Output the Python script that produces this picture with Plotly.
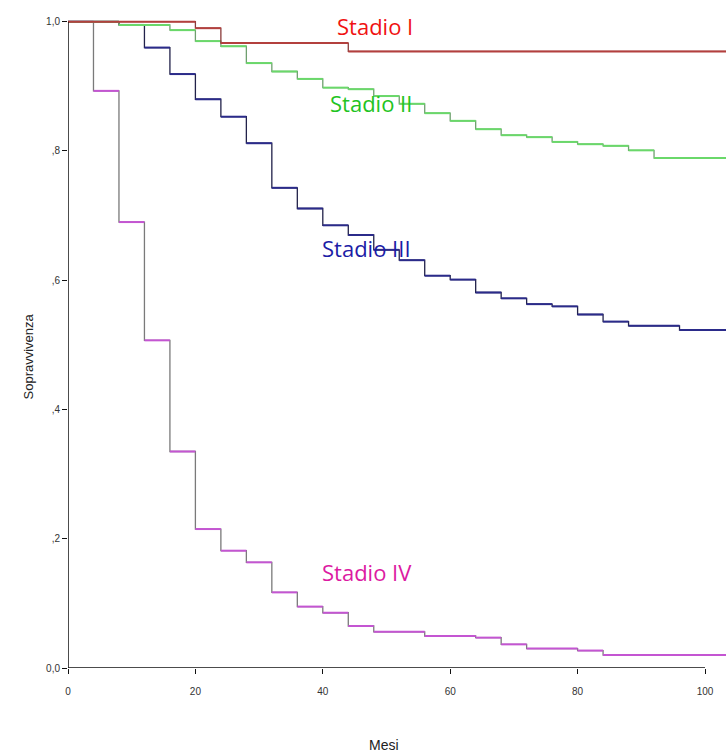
import plotly.graph_objects as go

# ---- data ----
stage_names = ["Stadio I", "Stadio II", "Stadio III", "Stadio IV"]

t_I = [0, 20, 24, 44]
s_I = [1.0, 0.990, 0.967, 0.954]

t_II = [0, 8, 16, 20, 24, 28, 32, 36, 40, 44, 48, 52, 56, 60, 64, 68, 72, 76, 80, 84, 88, 92]
s_II = [1.0, 0.995, 0.987, 0.970, 0.962, 0.936, 0.923, 0.9115, 0.898, 0.8956, 0.885, 0.873,
        0.8585, 0.8466, 0.8337, 0.8244, 0.8214, 0.814, 0.8105, 0.808, 0.801, 0.789]

t_III = [0, 8, 12, 16, 20, 24, 28, 32, 36, 40, 44, 48, 52, 56, 60, 64, 68, 72, 76, 80, 84, 88, 96]
s_III = [1.0, 0.995, 0.960, 0.919, 0.880, 0.853, 0.812, 0.743, 0.711, 0.685, 0.670, 0.647,
         0.631, 0.607, 0.601, 0.581, 0.572, 0.563, 0.5595, 0.547, 0.536, 0.5295, 0.523]

t_IV = [0, 4, 8, 12, 16, 20, 24, 28, 32, 36, 40, 44, 48, 56, 64, 68, 72, 80, 84]
s_IV = [1.0, 0.893, 0.690, 0.507, 0.335, 0.215, 0.1815, 0.1635, 0.117, 0.095, 0.0855,
        0.065, 0.056, 0.0495, 0.047, 0.0366, 0.030, 0.027, 0.020]

x_end = 104  # curves continue past the visible edge

x_tickvals = [0, 20, 40, 60, 80, 100]
x_ticktext = ["0", "20", "40", "60", "80", "100"]
y_tickvals = [0, 0.2, 0.4, 0.6, 0.8, 1.0]
y_ticktext = ["0,0", ",2", ",4", ",6", ",8", "1,0"]

# styles
line_colors = {"Stadio I": "#b3403e", "Stadio II": "#6ad86a", "Stadio III": "#2b2b8a", "Stadio IV": "#c455d2"}
vert_colors = {"Stadio I": "#8a3b3a", "Stadio II": "#6f9f6f", "Stadio III": "#22224a", "Stadio IV": "#7a7a7a"}
text_colors = {"Stadio I": "#f01212", "Stadio II": "#22c322", "Stadio III": "#1c1ca6", "Stadio IV": "#dc1aa2"}
label_pos = {"Stadio I": (48.2, 0.993), "Stadio II": (47.6, 0.874),
             "Stadio III": (46.9, 0.650), "Stadio IV": (46.9, 0.1485)}

series = {"Stadio I": (t_I, s_I), "Stadio II": (t_II, s_II),
          "Stadio III": (t_III, s_III), "Stadio IV": (t_IV, s_IV)}

fig = go.Figure()
for name in ["Stadio IV", "Stadio III", "Stadio II", "Stadio I"]:
    t, s = series[name]
    # full step curve (vertical connectors visible in gray tone)
    fig.add_trace(go.Scatter(x=t + [x_end], y=s + [s[-1]], mode="lines",
                             line=dict(color=vert_colors[name], width=1.3, shape="hv"),
                             showlegend=False, hoverinfo="skip"))
    # horizontal segments in the series colour
    hx, hy = [], []
    for i in range(len(t)):
        x1 = t[i + 1] if i + 1 < len(t) else x_end
        hx += [t[i], x1, None]
        hy += [s[i], s[i], None]
    fig.add_trace(go.Scatter(x=hx, y=hy, mode="lines", name=name,
                             line=dict(color=line_colors[name], width=2),
                             showlegend=False))

for name in stage_names:
    xp, yp = label_pos[name]
    fig.add_annotation(x=xp, y=yp, xref="x", yref="y", text=name, showarrow=False,
                       font=dict(family="Open Sans", size=22, color=text_colors[name]))

# axis lines (only over the 0-100 / 0-1 span, as in the original)
fig.add_shape(type="line", xref="x", yref="y", x0=0, x1=100, y0=0, y1=0,
              line=dict(color="#111111", width=1.5))
fig.add_shape(type="line", xref="x", yref="y", x0=0, x1=0, y0=0, y1=1.0,
              line=dict(color="#111111", width=1.5))

fig.add_annotation(text="Sopravvivenza", xref="paper", yref="paper",
                   x=(18 - 68) / 658, y=(668 - 357) / 668, textangle=-90, showarrow=False,
                   font=dict(family="Liberation Sans", size=13, color="#222222"))
fig.add_annotation(text="Mesi", xref="paper", yref="paper",
                   x=(384 - 68) / 658, y=(668 - 755) / 668, showarrow=False,
                   font=dict(family="Liberation Sans", size=14, color="#222222"))

fig.update_xaxes(range=[0, (726 - 68) / 6.37], tickvals=x_tickvals, ticktext=x_ticktext,
                 ticks="outside", ticklen=5, tickcolor="#111111", tickwidth=1.3,
                 ticklabelstandoff=9,
                 showline=False, showgrid=False, zeroline=False,
                 tickfont=dict(family="Liberation Sans", size=10, color="#333333"))
fig.update_yaxes(range=[0, 1.0336], tickvals=y_tickvals, ticktext=y_ticktext,
                 ticks="outside", ticklen=5, tickcolor="#111111", tickwidth=1.3,
                 showline=False, showgrid=False, zeroline=False,
                 tickfont=dict(family="Liberation Sans", size=10, color="#333333"))

fig.update_layout(width=726, height=756, margin=dict(l=68, r=0, t=0, b=88),
                  plot_bgcolor="white", paper_bgcolor="white", showlegend=False)

fig.write_html("out.html")
